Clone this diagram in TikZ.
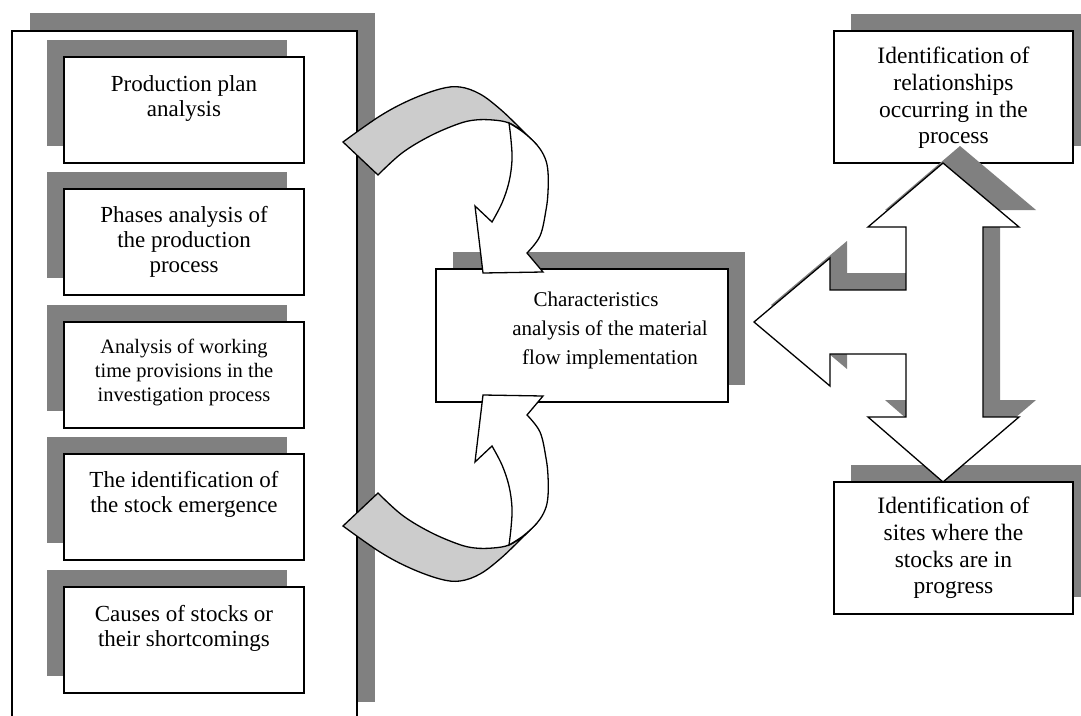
\documentclass[tikz,border=0pt]{standalone}
\usepackage{fontspec}
\setmainfont{Liberation Serif}
\usetikzlibrary{shadows}

\definecolor{shadowgray}{RGB}{128,128,128}
\definecolor{bandgray}{RGB}{204,204,204}

\tikzset{
  panel/.style={draw=black, fill=white, line width=1.5pt, inner sep=0pt, outer sep=0pt},
  box/.style={draw=black, fill=white, line width=1.3pt, inner sep=0pt, outer sep=0pt,
              minimum width=240pt, minimum height=106pt},
  sidebox/.style={box, minimum width=239pt, minimum height=132pt},
  upleft shadow/.style={general shadow={fill=shadowgray, shadow xshift=-17pt, shadow yshift=17pt}},
  upright shadow/.style={general shadow={fill=shadowgray, shadow xshift=17pt, shadow yshift=17pt}},
  band/.style={fill=bandgray, draw=black, line width=1.3pt},
  head/.style={fill=white, draw=black, line width=1.3pt},
  bigarrow/.style={fill=white, draw=black, line width=1.3pt},
  txt/.style={anchor=north, align=center, inner sep=0pt, font=\fontsize{23}{25}\selectfont},
  smalltxt/.style={txt, font=\fontsize{20.5}{24}\selectfont},
  sidetxt/.style={txt, font=\fontsize{23.5}{26.7}\selectfont},
  maintxt/.style={txt, font=\fontsize{21}{29}\selectfont},
}

% gray back of the curved arrow
\newcommand\loopband{plot[smooth, tension=0.6] coordinates {(343,142) (380,116) (410,100) (440,89) (460,87) (480,94) (500,109) (520,128) (537,145)}
  -- plot[smooth, tension=0.6] coordinates {(537,145) (523,132) (509,123) (493,120) (475,120) (458,124) (430,136) (402,153) (378,175)} -- cycle}
% white front of the curved arrow with its head
\newcommand\loophead{plot[smooth, tension=0.6] coordinates {(509,123) (523,132) (537,145) (545,158) (548,172) (548,192) (546,210) (540,236) (527,253)}
  -- (543,272) -- (483,273) -- (475,206) -- (492,222)
  -- plot[smooth, tension=0.6] coordinates {(492,222) (502,203) (509,182) (512,160) (511,140) (509,123)} -- cycle}
% three-way block arrow on the right
\newcommand\tarrow{(943,163) -- (1019,227) -- (983,227) -- (983,417) -- (1019,417) -- (943,482)
  -- (868,417) -- (906,417) -- (906,354) -- (830,354) -- (830,386) -- (754,322) -- (830,258)
  -- (830,290) -- (906,290) -- (906,227) -- (868,227) -- cycle}

\begin{document}
\begin{tikzpicture}[x=1pt, y=-1pt]
\useasboundingbox (0,0) rectangle (1081,715);
\clip (0,0) rectangle (1081,715);
\fill[white] (0,0) rectangle (1081,715);

% left panel with its list of steps
\node[panel, general shadow={fill=shadowgray, shadow xshift=18pt, shadow yshift=18pt},
      minimum width=345pt, minimum height=689pt] (panel) at (184.5,375.5) {};

\node[box, upleft shadow] (b1) at (184,110) {};
\node[box, upleft shadow] (b2) at (184,242) {};
\node[box, upleft shadow] (b3) at (184,375) {};
\node[box, upleft shadow] (b4) at (184,507) {};
\node[box, upleft shadow] (b5) at (184,640) {};

\node[txt] (t1) at ([yshift=-18pt]b1.north) {Production plan\\analysis};
\node[txt] (t2) at ([yshift=-17pt]b2.north) {Phases analysis of\\the production\\process};
\node[smalltxt] (t3) at ([yshift=-17pt]b3.north) {Analysis of working\\time provisions in the\\investigation process};
\node[txt] (t4) at ([yshift=-17pt]b4.north) {The identification of\\the stock emergence};
\node[txt] (t5) at ([yshift=-18pt]b5.north) {Causes of stocks or\\their shortcomings};

% central box
\node[box, upright shadow, minimum width=292pt, minimum height=133pt] (core) at (582,335.5) {};

% curved arrows from the panel into the central box
\path[band] \loopband;
\path[head] \loophead;
\begin{scope}[shift={(0,668)}, yscale=-1]
  \path[band] \loopband;
  \path[head] \loophead;
\end{scope}

\node[maintxt] (tc) at ([xshift=28pt, yshift=-23pt]core.north) {Characteristics\hspace*{28pt}\\analysis of the material\\flow implementation};

% right boxes joined by the block arrow
\node[sidebox, upright shadow] (r1) at (953.5,97) {};
\node[sidebox, upright shadow] (r2) at (953.5,548) {};

\fill[shadowgray, xshift=17pt, yshift=17pt] \tarrow;
\path[bigarrow] \tarrow;

\node[sidetxt] (tr1) at ([yshift=-16pt]r1.north) {Identification of\\relationships\\occurring in the\\process};
\node[sidetxt] (tr2) at ([yshift=-15pt]r2.north) {Identification of\\sites where the\\stocks are in\\progress};
\end{tikzpicture}
\end{document}
